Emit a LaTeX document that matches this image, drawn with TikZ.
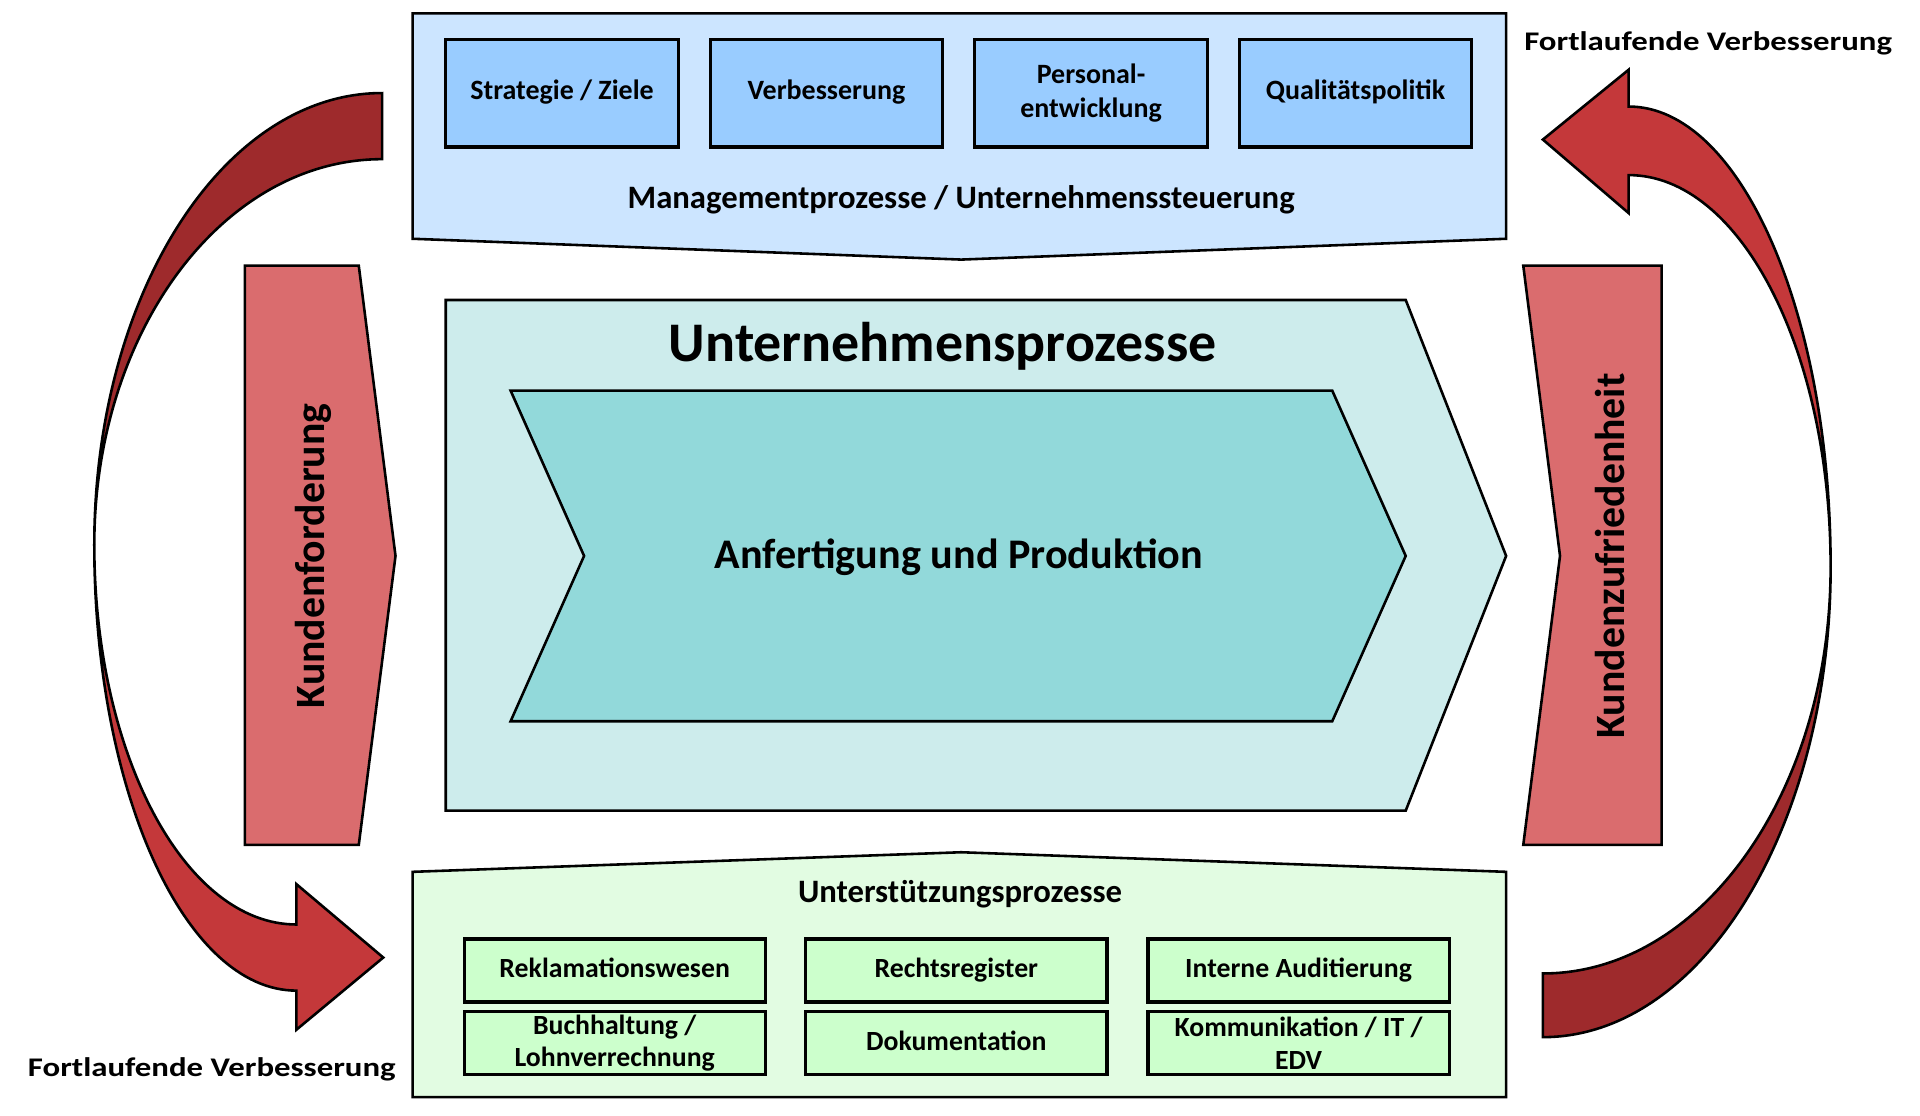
\documentclass[tikz,border=0pt]{standalone}
\usepackage{fontspec}
\setmainfont{Carlito}
\usepackage{graphicx}
\definecolor{mgmtbg}{RGB}{204,229,255}
\definecolor{mgmtbox}{RGB}{153,204,255}
\definecolor{procbg}{RGB}{205,236,236}
\definecolor{chev}{RGB}{146,217,218}
\definecolor{kunde}{RGB}{218,108,110}
\definecolor{darkred}{RGB}{158,42,44}
\definecolor{lightred}{RGB}{196,56,58}
\definecolor{suppbg}{RGB}{226,252,226}
\definecolor{suppbox}{RGB}{204,255,204}
\tikzset{
  outline/.style={draw=black, line width=1.2pt, line join=miter},
  mbox/.style={draw=black, line width=1.5pt, fill=mgmtbox, minimum width=3.8cm, minimum height=1.76cm, align=center, inner sep=1pt, font=\bfseries\fontsize{13}{16}\selectfont},
  sbox/.style={draw=black, line width=1.5pt, fill=suppbox, minimum width=4.92cm, minimum height=1.03cm, align=center, inner sep=0pt, font=\bfseries\fontsize{12.9}{15}\selectfont},
  title/.style={font=\bfseries\fontsize{15.2}{18}\selectfont},
  kundtext/.style={rotate=90, font=\bfseries\fontsize{19.4}{22}\selectfont},
  fort/.style={font=\bfseries\fontsize{12.5}{15}\selectfont}
}
\begin{document}
\begin{tikzpicture}[x=0.02cm,y=-0.02cm]
\useasboundingbox (0,0) rectangle (1568,911);
% management
\draw[outline, fill=mgmtbg] (337,11) -- (1230,11) -- (1230,195) -- (785,212) -- (337,195) -- cycle;
\node[mbox] (strat) at (459,76) {\strut Strategie / Ziele};
\node[mbox] (verb) at (675,76) {\strut Verbesserung};
\node[mbox] (pers) at (891,76) {Personal-\\entwicklung};
\node[mbox] (qual) at (1107,76) {\strut Qualitätspolitik};
\node[title] (mgmt) at (785,163) {Managementprozesse / Unternehmenssteuerung};
% process
\draw[outline, fill=procbg] (364,245) -- (1148,245) -- (1230,454) -- (1148,662) -- (364,662) -- cycle;
\node[font=\bfseries\fontsize{26}{30}\selectfont] (unt) at (770,283) {Unternehmensprozesse};
\draw[outline, fill=chev] (417,319) -- (1088,319) -- (1148,454) -- (1088,589) -- (417,589) -- (477,454) -- cycle;
\node[font=\bfseries\fontsize{19.6}{23}\selectfont] (anf) at (783,455) {Anfertigung und Produktion};
% customer arrows
\draw[outline, fill=kunde] (200,217) -- (293,217) -- (323,454) -- (293,690) -- (200,690) -- cycle;
\node[kundtext] (kf) at (256,454) {Kundenforderung};
\draw[outline, fill=kunde] (1244,217) -- (1357,217) -- (1357,690) -- (1244,690) -- (1274,454) -- cycle;
\node[kundtext] (kz) at (1315,454) {Kundenzufriedenheit};
% support
\draw[outline, fill=suppbg] (337,712) -- (785,696) -- (1230,712) -- (1230,896) -- (337,896) -- cycle;
\node[title] (supp) at (784,730) {Unterstützungsprozesse};
\node[sbox, text height=0.36cm, text depth=0.12cm] (rek) at (502,792.5) {Reklamationswesen};
\node[sbox, text height=0.36cm, text depth=0.12cm] (rec) at (781,792.5) {Rechtsregister};
\node[sbox, text height=0.36cm, text depth=0.12cm] (aud) at (1060.5,792.5) {Interne Auditierung};
\node[sbox] (buch) at (502,852) {Buchhaltung /\\Lohnverrechnung};
\node[sbox, text height=0.36cm, text depth=0.12cm] (dok) at (781,852) {Dokumentation};
\node[sbox] (kom) at (1060.5,852) {Kommunikation / IT /\\EDV};
% left curved arrow
\draw[outline, fill=darkred] (312,76) .. controls (182,76) and (77,241) .. (77,445) .. controls (77,271) and (182,130) .. (312,130) -- cycle;
\draw[outline, fill=lightred] (77,445) .. controls (77,646) and (151,809) .. (242,809) -- (242,841) -- (313,782) -- (242,722) -- (242,755) .. controls (151,755) and (77,616) .. (77,445) -- cycle;
% right curved arrow
\draw[outline, fill=lightred] (1495,463) .. controls (1495,255) and (1421,87) .. (1330,87) -- (1330,57) -- (1260,114) -- (1330,174) -- (1330,143) .. controls (1421,143) and (1495,286) .. (1495,463) -- cycle;
\draw[outline, fill=darkred] (1495,463) .. controls (1495,675) and (1390,847) .. (1260,847) -- (1260,795) .. controls (1390,795) and (1495,646) .. (1495,463) -- cycle;
% labels
\node[fort] (fl1) at (1395,35) {\scalebox{1.22}[1]{Fortlaufende Verbesserung}};
\node[fort] (fl2) at (173,873) {\scalebox{1.22}[1]{Fortlaufende Verbesserung}};
\end{tikzpicture}
\end{document}
